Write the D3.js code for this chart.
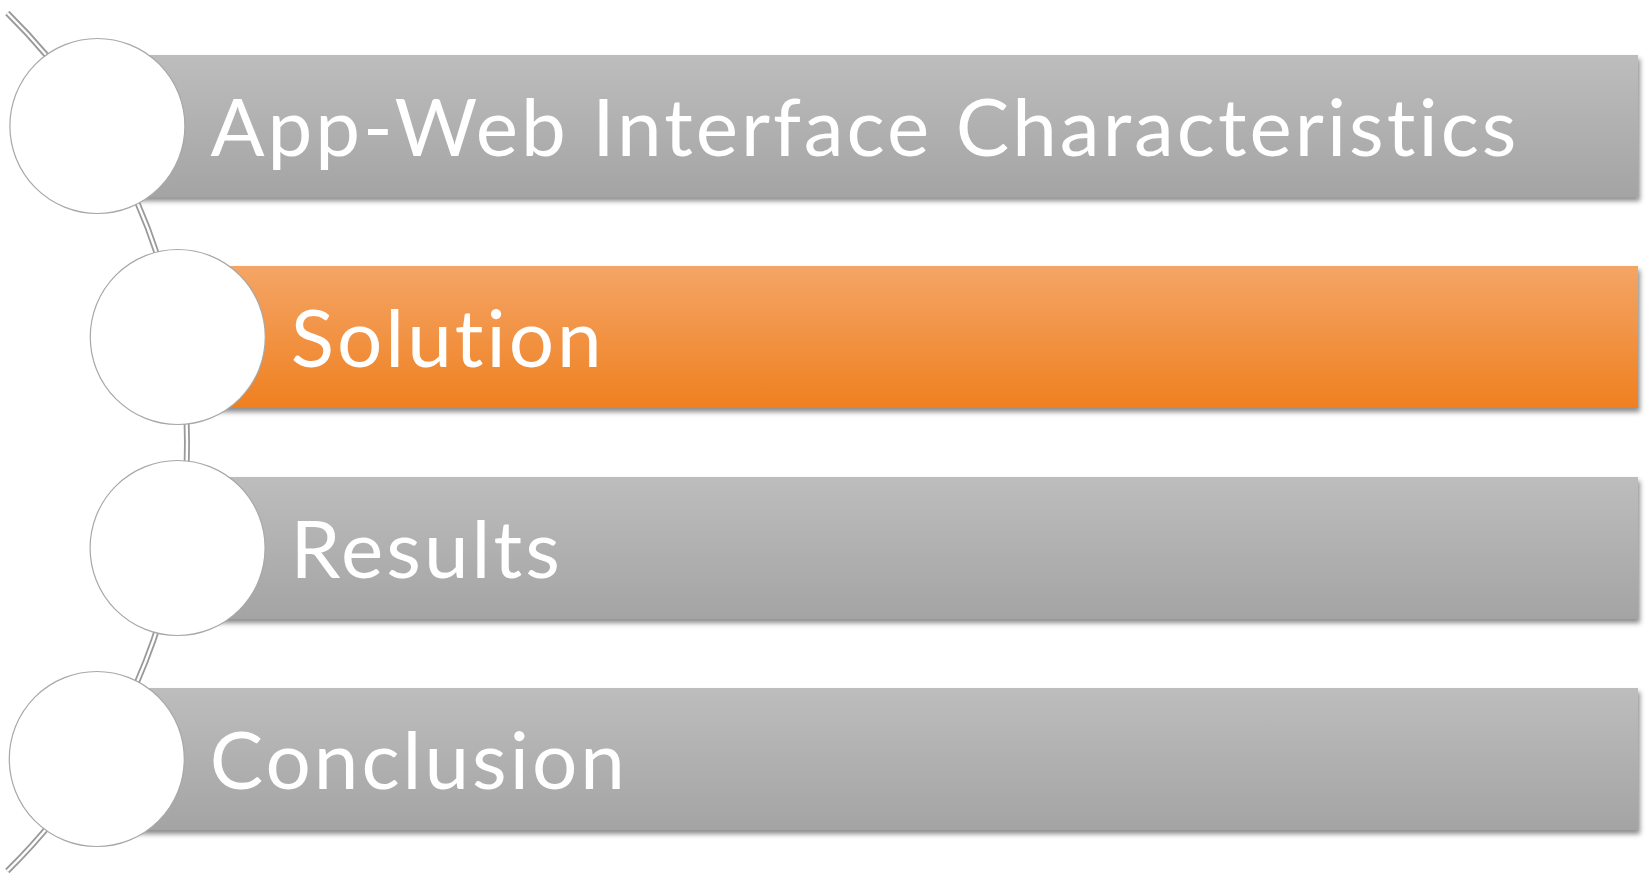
<!DOCTYPE html>
<html>
<head>
<meta charset="utf-8">
<script src="https://cdn.jsdelivr.net/npm/d3@7"></script>
<style>
  body { margin: 0; background: #fff; }
  text { font-family: Lato, "Open Sans", sans-serif; }
</style>
</head>
<body>
<script>
var w = 1647;
var h = 878;

// items of the list, top to bottom
var labels = ["App-Web Interface Characteristics", "Solution", "Results", "Conclusion"];
var active = [false, true, false, false];

// the big arc that the circles sit on
var arcCx = -415, arcCy = 442, arcR = 602;

var yScale = d3.scaleBand()
  .domain(labels)
  .range([55, 830])
  .paddingInner(0.327);

function arcX(y) {
  return arcCx + Math.sqrt(arcR * arcR - (y - arcCy) * (y - arcCy));
}

function midY(d) {
  return yScale(d) + yScale.bandwidth() / 2;
}

var svg = d3.select("body")
  .append("svg")
  .attr("width", w)
  .attr("height", h);

var defs = svg.append("defs");

var gGray = defs.append("linearGradient").attr("id", "gray").attr("x1", 0).attr("y1", 0).attr("x2", 0).attr("y2", 1);
gGray.append("stop").attr("offset", "0%").attr("stop-color", "#bdbdbd");
gGray.append("stop").attr("offset", "100%").attr("stop-color", "#a4a4a4");

var gOrange = defs.append("linearGradient").attr("id", "orange").attr("x1", 0).attr("y1", 0).attr("x2", 0).attr("y2", 1);
gOrange.append("stop").attr("offset", "0%").attr("stop-color", "#f4a566");
gOrange.append("stop").attr("offset", "100%").attr("stop-color", "#ef8020");

var shadow = defs.append("filter").attr("id", "shadow")
  .attr("x", "-5%").attr("y", "-10%").attr("width", "110%").attr("height", "130%");
shadow.append("feDropShadow")
  .attr("dx", 2).attr("dy", 4).attr("stdDeviation", 2.5)
  .attr("flood-color", "#000").attr("flood-opacity", 0.45);

// bars
svg.selectAll("rect.bar")
  .data(labels)
  .enter()
  .append("rect")
  .attr("class", "bar")
  .attr("x", function(d) { return arcX(midY(d)); })
  .attr("y", function(d) { return yScale(d); })
  .attr("width", function(d) { return 1638 - arcX(midY(d)); })
  .attr("height", yScale.bandwidth())
  .attr("fill", function(d, i) { return active[i] ? "url(#orange)" : "url(#gray)"; })
  .attr("filter", "url(#shadow)");

// double line arc
var a = Math.asin((13 - arcCy) / arcR);
var p = d3.path();
p.arc(arcCx, arcCy, arcR, a, -a);
svg.append("path").attr("d", p.toString())
  .attr("fill", "none").attr("stroke", "#9a9a9a").attr("stroke-width", 6);
svg.append("path").attr("d", p.toString())
  .attr("fill", "none").attr("stroke", "#fff").attr("stroke-width", 2.4);

// circles
svg.selectAll("circle.node")
  .data(labels)
  .enter()
  .append("circle")
  .attr("class", "node")
  .attr("cx", function(d) { return arcX(midY(d)); })
  .attr("cy", midY)
  .attr("r", 87.5)
  .attr("fill", "#fff")
  .attr("stroke", "#a8a8a8")
  .attr("stroke-width", 1.2);

// labels
svg.selectAll("text.label")
  .data(labels)
  .enter()
  .append("text")
  .attr("class", "label")
  .attr("x", function(d) { return arcX(midY(d)) + 113; })
  .attr("y", function(d) { return midY(d) + 30; })
  .attr("fill", "#fff")
  .attr("font-size", 80)
  .attr("letter-spacing", 3)
  .text(function(d) { return d; });
</script>
</body>
</html>
